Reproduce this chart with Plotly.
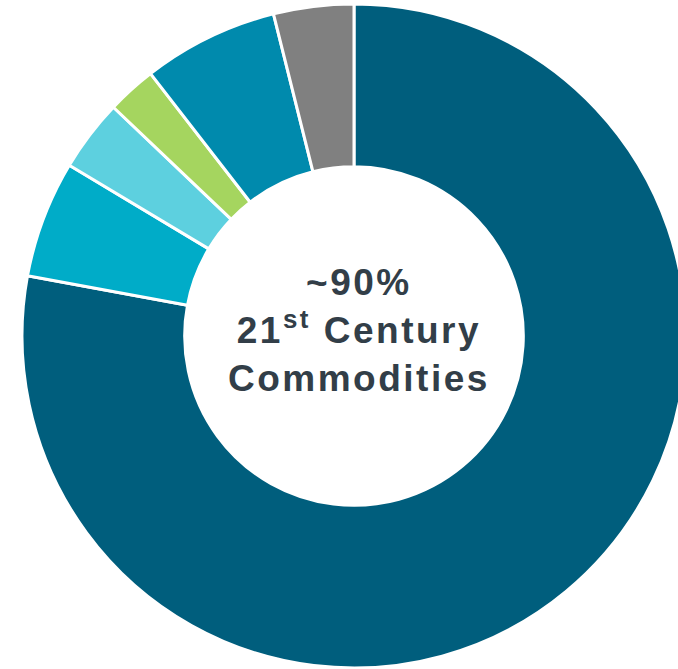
import plotly.graph_objects as go

# Share of each segment, clockwise from 12 o'clock
segments = ["Segment A", "Segment B", "Segment C", "Segment D", "Segment E", "Segment F"]
shares = [77.9, 5.7, 3.5, 2.4, 6.6, 3.9]
colors = ["#005E7D", "#00ACC8", "#5DD0DF", "#A5D55F", "#008AAD", "#808080"]

center_lines = ["~90%", "21<sup>st</sup> Century", "Commodities"]

fig = go.Figure(
    go.Pie(
        labels=segments,
        values=shares,
        hole=0.51,
        sort=False,
        direction="clockwise",
        rotation=0,
        marker=dict(colors=colors, line=dict(color="white", width=3)),
        textinfo="none",
        hoverinfo="label+percent",
        showlegend=False,
    )
)

fig.add_annotation(
    x=0.507, y=0.508, xref="paper", yref="paper",
    xanchor="center", yanchor="middle",
    text="<span style='letter-spacing:2.5px;font-weight:bold'>" + "<br>".join(center_lines) + "</span>",
    showarrow=False,
    align="center",
    font=dict(family="Liberation Sans, Arial, sans-serif", size=37, color="#323E48", weight="bold"),
)

fig.update_layout(
    width=692, height=669,
    margin=dict(l=22, r=6, t=4, b=1),
    paper_bgcolor="white",
    plot_bgcolor="white",
)

fig.write_html("out.html")
